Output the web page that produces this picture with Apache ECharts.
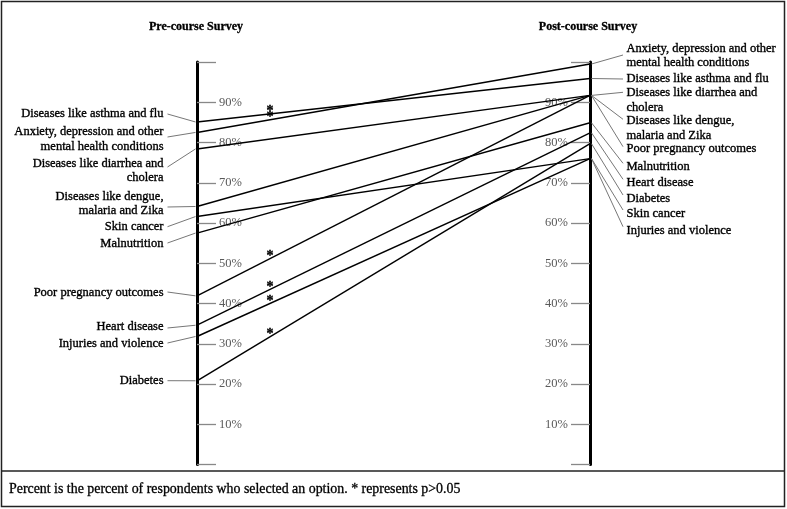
<!DOCTYPE html>
<html>
<head>
<meta charset="utf-8">
<script src="https://cdn.jsdelivr.net/npm/echarts@6/dist/echarts.min.js"></script>
<style>
html,body{margin:0;padding:0;background:#fff;}
#chart{width:787px;height:509px;}
</style>
</head>
<body>
<div id="chart"></div>
<script>
// ---- data ----
var categories = [
  'Anxiety, depression and other\nmental health conditions',
  'Diseases like asthma and flu',
  'Diseases like diarrhea and\ncholera',
  'Diseases like dengue,\nmalaria and Zika',
  'Poor pregnancy outcomes',
  'Malnutrition',
  'Heart disease',
  'Diabetes',
  'Skin cancer',
  'Injuries and violence'
];
var preValues  = [82.5, 85.1, 78.4, 64.1, 41.9, 57.5, 34.6, 20.8, 61.6, 31.8];
var postValues = [99.5, 95.9, 91.7, 91.7, 91.7, 84.9, 82.4, 79.7, 76.0, 76.0];
var notSignificant = [true, true, false, false, true, false, true, true, false, true];
var surveyTitles = ['Pre-course Survey', 'Post-course Survey'];
var footnote = 'Percent is the percent of respondents who selected an option. * represents p>0.05';

// ---- label layout (pixel positions of text blocks, not data) ----
var leftTextY    = [139, 114, 170.5, 203.5, 292.3, 243.3, 326.7, 380.7, 226.7, 344];
var leftLeaderY  = [137, 114, 167, 207, 292, 243, 328, 380.7, 226.7, 343];
var rightTextY   = [55.5, 79, 100.2, 128, 149, 166.7, 182.7, 198.3, 213.3, 231];
var rightLeaderY = [55, 79, 92.3, 119.3, 146.7, 163.3, 179.3, 195, 210, 226.7];

var FONT = '"Liberation Serif", "Times New Roman", serif';
var chart = echarts.init(document.getElementById('chart'), null, {renderer: 'canvas'});

var lineSeries = categories.map(function (c, i) {
  return {
    name: c.replace('\n', ' '),
    type: 'line',
    data: [[0, preValues[i]], [1, postValues[i]]],
    symbol: 'none',
    silent: true,
    lineStyle: {color: '#000', width: 1.4},
    z: 3
  };
});

function tickFmt(v) { return (v === 0 || v === 100) ? '' : v + '%'; }

function labelStyle(text, x, y, align) {
  return {text: text, x: x, y: y, align: align, verticalAlign: 'middle',
    fontFamily: FONT, fontSize: 12.5, lineHeight: 14.5, fill: '#000',
    stroke: '#000', lineWidth: 0.35};
}

var labelSeries = {
  type: 'custom',
  coordinateSystem: 'cartesian2d',
  silent: true,
  z: 4,
  data: categories.map(function (c, i) { return [0, preValues[i], i]; }),
  encode: {x: 0, y: 1},
  renderItem: function (params, api) {
    var i = api.value(2);
    var pl = api.coord([0, preValues[i]]);
    var pr = api.coord([1, postValues[i]]);
    var children = [
      {type: 'text', style: labelStyle(categories[i], 163.5, leftTextY[i], 'right')},
      {type: 'line', shape: {x1: 167.5, y1: leftLeaderY[i], x2: pl[0] - 1.5, y2: pl[1]},
        style: {stroke: '#777', lineWidth: 1}},
      {type: 'text', style: labelStyle(categories[i], 626.5, rightTextY[i], 'left')},
      {type: 'line', shape: {x1: pr[0] + 1.5, y1: pr[1], x2: 623, y2: rightLeaderY[i]},
        style: {stroke: '#777', lineWidth: 1}}
    ];
    if (notSignificant[i]) {
      var t = 0.186;
      var ps = api.coord([t, preValues[i] + (postValues[i] - preValues[i]) * t]);
      children.push({type: 'text', style: {text: '*', x: ps[0], y: ps[1] - 2.5, align: 'center', verticalAlign: 'middle',
        fontFamily: FONT, fontSize: 14, fontWeight: 'bold', fill: '#000', stroke: '#000', lineWidth: 0.4}});
    }
    return {type: 'group', children: children};
  }
};

function yAxisCfg(pos) {
  return {
    type: 'value',
    position: pos,
    min: 0, max: 100, interval: 10,
    axisLine: {show: true, lineStyle: {color: '#000', width: 3}},
    axisTick: {show: true, inside: true, length: 19, lineStyle: {color: '#888', width: 1.3}},
    axisLabel: {show: true, inside: true, margin: 22, color: '#5a5a5a', fontFamily: FONT, fontSize: 12.5, formatter: tickFmt},
    splitLine: {show: false}
  };
}

var option = {
  animation: false,
  backgroundColor: '#fff',
  grid: {left: 197, right: 197, top: 62, bottom: 44.5, containLabel: false},
  xAxis: {type: 'value', min: 0, max: 1, show: false},
  yAxis: [yAxisCfg('left'), yAxisCfg('right')],
  graphic: [
    {type: 'rect', shape: {x: 1.5, y: 1.5, width: 783, height: 505}, style: {fill: 'none', stroke: '#222', lineWidth: 1.5}, z: 10},
    {type: 'line', shape: {x1: 1.5, y1: 471, x2: 784.5, y2: 471}, style: {stroke: '#222', lineWidth: 1.5}, z: 10},
    {type: 'text', style: {text: surveyTitles[0], x: 196, y: 27, align: 'center', verticalAlign: 'middle', fontFamily: FONT, fontSize: 12, fontWeight: 'bold', fill: '#000', stroke: '#000', lineWidth: 0.3}},
    {type: 'text', style: {text: surveyTitles[1], x: 588, y: 27, align: 'center', verticalAlign: 'middle', fontFamily: FONT, fontSize: 12, fontWeight: 'bold', fill: '#000', stroke: '#000', lineWidth: 0.3}},
    {type: 'text', style: {text: footnote, x: 9, y: 489, align: 'left', verticalAlign: 'middle', fontFamily: FONT, fontSize: 13.9, fill: '#000', stroke: '#000', lineWidth: 0.3}}
  ],
  series: lineSeries.concat([labelSeries])
};
chart.setOption(option);
</script>
</body>
</html>
